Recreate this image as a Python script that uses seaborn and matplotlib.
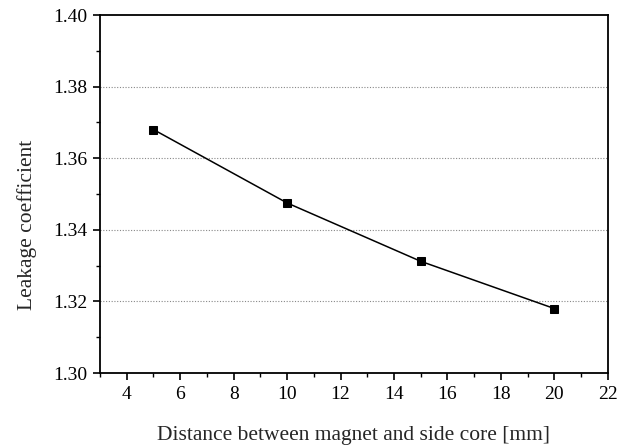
import matplotlib
matplotlib.use("Agg")
import matplotlib.pyplot as plt
import seaborn as sns
import pandas as pd
from matplotlib.ticker import MultipleLocator

distance = [5, 10, 15, 20]
leakage = [1.368, 1.3475, 1.3312, 1.318]
x_ticks = [4, 6, 8, 10, 12, 14, 16, 18, 20, 22]
y_ticks = [1.30, 1.32, 1.34, 1.36, 1.38, 1.40]
y_tick_labels = ["1.30", "1.32", "1.34", "1.36", "1.38", "1.40"]

sns.set_theme(style="ticks")
plt.rcParams['font.family'] = ['Liberation Serif', 'DejaVu Serif']

df = pd.DataFrame({"d": distance, "k": leakage})

fig = plt.figure(figsize=(6.19, 4.48), dpi=100)
ax = fig.add_axes([0.1616, 0.1674, 0.8204, 0.7991])
sns.lineplot(data=df, x="d", y="k", ax=ax, color="black", linewidth=1.1,
             marker="s", markersize=6, markerfacecolor="black", markeredgecolor="black")

ax.set_xlim(3, 22)
ax.set_ylim(1.30, 1.40)
ax.set_xticks(x_ticks)
ax.set_yticks(y_ticks)
ax.set_yticklabels(y_tick_labels)
ax.xaxis.set_minor_locator(MultipleLocator(1))
ax.yaxis.set_minor_locator(MultipleLocator(0.01))

for y in [1.32, 1.34, 1.36, 1.38]:
    ax.axhline(y, color="#888888", linestyle=(0, (1, 1.5)), linewidth=0.8, zorder=0)

for s in ax.spines.values():
    s.set_linewidth(1.3)
    s.set_color("black")

ax.tick_params(axis="both", which="major", direction="out", length=5, width=1.2,
               labelsize=14, colors="black", pad=4)
ax.tick_params(axis="both", which="minor", direction="out", length=3, width=1.0, colors="black")

ax.set_xlabel("Distance between magnet and side core [mm]", fontsize=15.5, labelpad=17)
ax.set_ylabel("Leakage coefficient", fontsize=15.5)
ax.yaxis.set_label_coords(-0.125, 0.413)

fig.savefig("out.png", dpi=100)
